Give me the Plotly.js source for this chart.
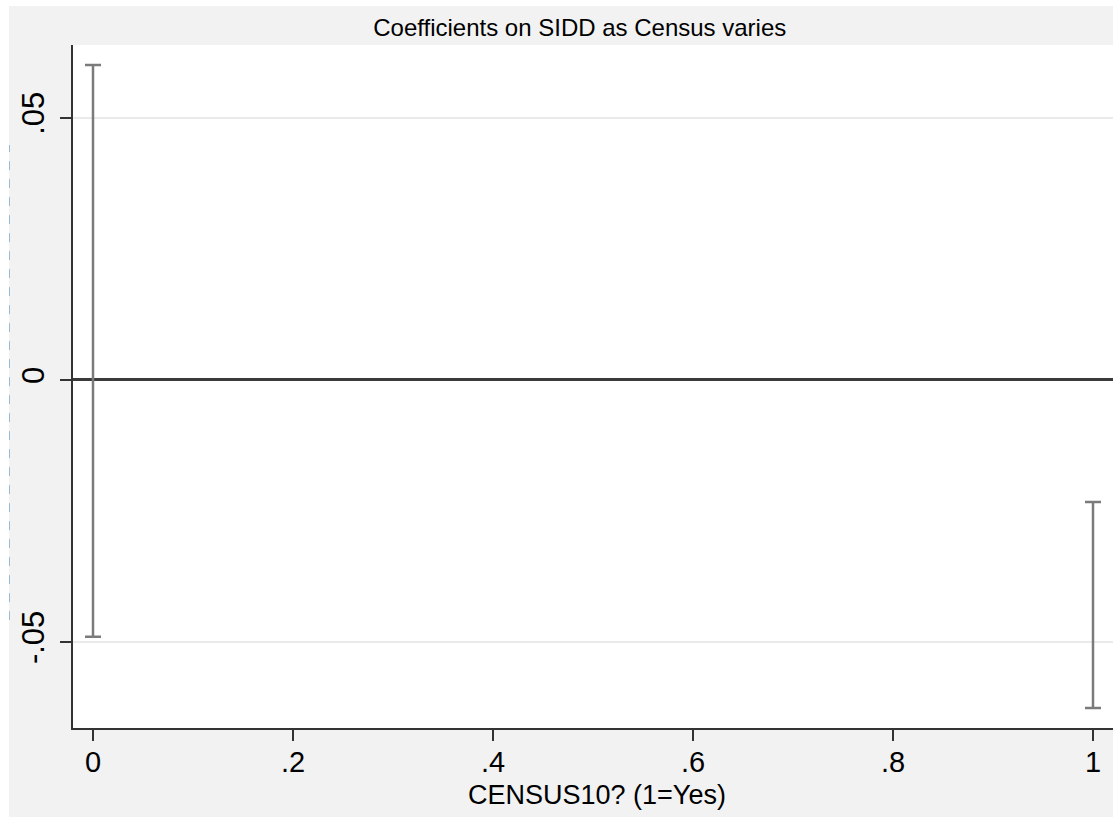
<!DOCTYPE html>
<html>
<head>
<meta charset="utf-8">
<script src="https://cdn.plot.ly/plotly-3.0.1.min.js"></script>
<style>
  html, body { margin: 0; padding: 0; background: #ffffff; width: 1113px; height: 817px; overflow: hidden; }
  #chart { position: absolute; left: 9px; top: 6px; width: 1104px; height: 811px; }
</style>
</head>
<body>
<div id="chart"></div>
<script>
// Data
const census = [0, 1];               // CENSUS10? (1=Yes)
const ciLow  = [-0.049, -0.0626];    // lower confidence bound
const ciHigh = [0.0601, -0.0233];    // upper confidence bound
const coef   = [0.0055, -0.043];     // point estimate (not drawn as a marker)

const xTickVals = [0, 0.2, 0.4, 0.6, 0.8, 1];
const xTickText = ['0', '.2', '.4', '.6', '.8', '1'];
const yTickVals = [-0.05, 0, 0.05];
const yTickText = ['-.05', '0', '.05'];

const plus  = ciHigh.map((h, i) => h - coef[i]);
const minus = coef.map((c, i) => c - ciLow[i]);

const trace = {
  type: 'scatter',
  mode: 'markers',
  x: census,
  y: coef,
  marker: { size: 1, opacity: 0 },
  error_y: {
    type: 'data',
    symmetric: false,
    array: plus,
    arrayminus: minus,
    color: '#7b7b7b',
    thickness: 2.5,
    width: 8
  },
  hoverinfo: 'skip',
  showlegend: false
};

const FONT = '"Liberation Sans", Arial, Helvetica, sans-serif';

const layout = {
  width: 1104,
  height: 811,
  paper_bgcolor: '#f2f2f2',
  plot_bgcolor: '#ffffff',
  margin: { l: 64, r: 0, t: 39, b: 89, pad: 0 },
  font: { family: FONT, color: '#000000' },
  title: {
    text: 'Coefficients on SIDD as Census varies',
    font: { family: FONT, size: 24, color: '#000000' },
    x: 0.517, xref: 'container', xanchor: 'center',
    y: 0.973, yref: 'container', yanchor: 'middle'
  },
  xaxis: {
    range: [-0.02, 1.02],
    tickvals: xTickVals,
    ticktext: xTickText,
    tickfont: { family: FONT, size: 29, color: '#000000' },
    ticks: 'outside', ticklen: 11, tickwidth: 2, tickcolor: '#333333',
    ticklabelstandoff: -4,
    showline: true, linecolor: '#333333', linewidth: 2,
    showgrid: false, zeroline: false,
    automargin: false
  },
  yaxis: {
    range: [-0.0664, 0.0639],
    tickvals: yTickVals,
    ticktext: yTickText,
    tickangle: -90,
    tickfont: { family: FONT, size: 31, color: '#000000' },
    ticks: 'outside', ticklen: 11, tickwidth: 2, tickcolor: '#333333',
    ticklabelstandoff: 4,
    showline: true, linecolor: '#333333', linewidth: 2,
    showgrid: true, gridcolor: '#eaeaea', gridwidth: 2,
    zeroline: true, zerolinecolor: '#3a3a3a', zerolinewidth: 3,
    automargin: false
  },
  annotations: [
    { text: 'CENSUS10? (1=Yes)', xref: 'paper', yref: 'paper', x: 0.504, y: -0.098,
      xanchor: 'center', yanchor: 'middle', showarrow: false,
      font: { family: FONT, size: 27, color: '#000000' } }
  ],
  shapes: [
    { type: 'line', xref: 'paper', yref: 'paper', x0: -0.0615, x1: -0.0615, y0: 0.158, y1: 0.8536,
      line: { color: '#4a8cc4', width: 1, dash: 'dash' } }
  ]
};

Plotly.newPlot('chart', [trace], layout, { displayModeBar: false, staticPlot: true });
</script>
</body>
</html>
